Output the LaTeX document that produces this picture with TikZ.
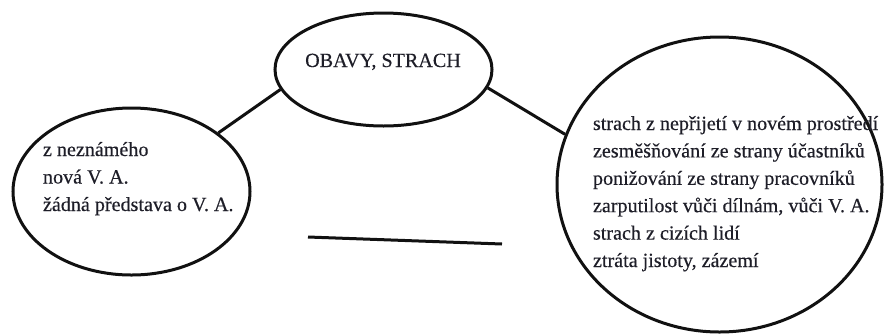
\documentclass[tikz,border=0pt]{standalone}
\usepackage{fontspec}
\setmainfont{Liberation Serif}
\newfontfamily\inkfont[FakeBold=0.35]{Liberation Serif}
\usetikzlibrary{shapes.geometric}
\definecolor{inkline}{HTML}{111111}
\definecolor{inktext}{HTML}{1E1E28}
\begin{document}
\begin{tikzpicture}[x=1pt,y=-1pt,
  bubble/.style={ellipse,draw=inkline,line width=3pt,inner sep=0pt,fill=white},
  link/.style={draw=inkline,line width=3pt},
  label/.style={inner sep=0pt,outer sep=0pt,text=inktext,
    font=\inkfont\fontsize{20.1}{27}\selectfont},
  row/.style={label,anchor=base west}]
\useasboundingbox[fill=white] (0,0) rectangle (885,333);

% three ellipses
\node[bubble,minimum width=217pt,minimum height=113pt] (fear) at (383.5,69.5) {};
\node[bubble,minimum width=237pt,minimum height=167pt] (unknown) at (131.5,191.5) {};
\node[bubble,minimum width=325pt,minimum height=295pt] (social) at (719.5,184.5) {};

% connectors between the ellipses
\draw[link] (fear.191.3) -- (unknown.34.5);
\draw[link] (fear.-10.1) -- (social.162.6);

% free-standing stroke below
\coordinate (barA) at (308,237);
\coordinate (barB) at (502,244);
\draw[link] (barA) -- (barB);

% central heading
\node[label,anchor=base] (head) at (383,67) {OBAVY, STRACH};

% left ellipse text
\node[row] (u1) at (43,156) {z neznámého};
\node[row] (u2) at (43,183.5) {nová V. A.};
\node[row] (u3) at (43,211) {žádná představa o V. A.};

% right ellipse text
\node[row] (s1) at (593,130) {strach z nepřijetí v novém prostředí};
\node[row] (s2) at (593,157.4) {zesměšňování ze strany účastníků};
\node[row] (s3) at (593,184.8) {ponižování ze strany pracovníků};
\node[row] (s4) at (593,212.2) {zarputilost vůči dílnám, vůči V. A.};
\node[row] (s5) at (593,239.6) {strach z cizích lidí};
\node[row] (s6) at (593,267) {ztráta jistoty, zázemí};
\end{tikzpicture}
\end{document}
